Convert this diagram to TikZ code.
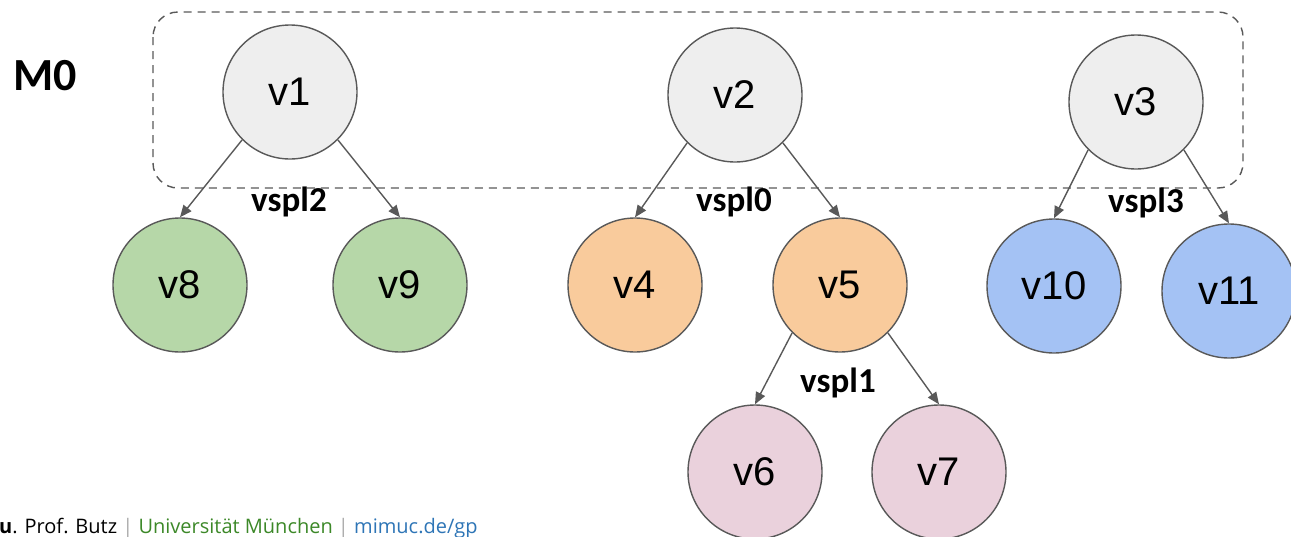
\documentclass[tikz,border=0pt]{standalone}
\usepackage[RGB]{xcolor}
\usepackage{fontspec}
\setmainfont{Liberation Sans}
\newfontfamily\labelfont{Carlito}
\newfontfamily\footfont{Open Sans}
\usetikzlibrary{arrows.meta}
\definecolor{G}{RGB}{238,238,238}
\definecolor{N}{RGB}{182,215,168}
\definecolor{O}{RGB}{249,203,156}
\definecolor{B}{RGB}{164,194,244}
\definecolor{P}{RGB}{234,209,220}
\definecolor{E}{RGB}{89,89,89}
\definecolor{footgreen}{RGB}{60,136,40}
\definecolor{footblue}{RGB}{46,117,182}
\definecolor{footbar}{RGB}{170,170,170}
\tikzset{
  vnode/.style={circle,draw=E,line width=1.4pt,minimum size=134pt,inner sep=0pt,
    font=\fontsize{40}{48}\selectfont},
  vedge/.style={draw=E,line width=1.4pt,-{Triangle[length=12pt,width=10pt]}},
  vspl/.style={anchor=base,font=\labelfont\bfseries\fontsize{35}{42}\selectfont}
}
\newcommand{\splitedges}[3]{
  \draw[vedge] (#1.-135) -- (#2.north);
  \draw[vedge] (#1.-45) -- (#3.north);
}
\begin{document}
\begin{tikzpicture}[x=1pt,y=-1pt]
\useasboundingbox (0,0) rectangle (1291,536);
\draw[E,line width=1.4pt,dash pattern=on 8pt off 6pt,rounded corners=25pt] (153,12) rectangle (1243,188);
\node[anchor=center,font=\labelfont\bfseries\fontsize{46}{54}\selectfont] (m0) at (45,76) {M0};
% roots
\node[vnode,fill=G] (v1) at (290,92) {v1};
\node[vnode,fill=G] (v2) at (735,95) {v2};
\node[vnode,fill=G] (v3) at (1136,102) {v3};
% children
\node[vnode,fill=N] (v8) at (180,285) {v8};
\node[vnode,fill=N] (v9) at (400,285) {v9};
\node[vnode,fill=O] (v4) at (635,285) {v4};
\node[vnode,fill=O] (v5) at (840,285) {v5};
\node[vnode,fill=B] (v10) at (1054,286) {v10};
\node[vnode,fill=B] (v11) at (1229,291) {v11};
\node[vnode,fill=P] (v6) at (755,472) {v6};
\node[vnode,fill=P] (v7) at (939,472) {v7};
\splitedges{v1}{v8}{v9}
\splitedges{v2}{v4}{v5}
\splitedges{v3}{v10}{v11}
\splitedges{v5}{v6}{v7}
\node[vspl] (s2) at (289,211) {vspl2};
\node[vspl] (s0) at (734,211) {vspl0};
\node[vspl] (s3) at (1146,212) {vspl3};
\node[vspl] (s1) at (838,392) {vspl1};
% footer
\node[anchor=base west,inner sep=0pt,font=\footfont\fontsize{20}{24}\selectfont] (foot) at (-1,533)
  {\textbf{u}. Prof. Butz \textcolor{footbar}{|} \textcolor{footgreen}{Universität München} \textcolor{footbar}{|} \textcolor{footblue}{mimuc.de/gp}};
\end{tikzpicture}
\end{document}
